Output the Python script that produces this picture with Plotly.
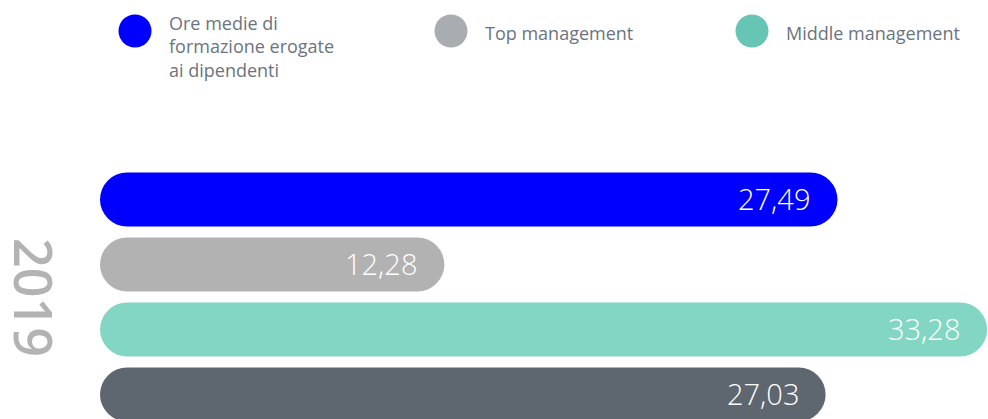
import plotly.graph_objects as go

# ---- data ----
categories = ["Ore medie di formazione erogate ai dipendenti", "Top management",
              "Middle management", "Altri dipendenti"]
values = [27.49, 12.28, 33.28, 27.03]
value_labels = ["27,49", "12,28", "33,28", "27,03"]
bar_colors = ["#0000FF", "#B2B2B2", "#83D6C4", "#5E6670"]
legend_labels = ["Ore medie di<br>formazione erogate<br>ai dipendenti", "Top management", "Middle management"]
legend_colors = ["#0000FF", "#A9ADB1", "#66C5B5"]
year_label = "2019"

# ---- layout geometry ----
W, H = 988, 419
ml, mr, mt, mb = 100, 0, 167, 0
pw, ph = W - ml - mr, H - mt - mb
R = 27                      # rounded cap radius (px)
xmax = max(values) * 1.001
s = (pw - R) / xmax          # px per unit
cap = R / s                  # left cap length in data units
row_px = 65

def px(xp):
    return (xp - ml) / pw

def py(yp):
    return (H - mb - yp) / ph

fig = go.Figure()
# left rounded cap (styling only)
fig.add_bar(y=categories, x=[-cap] * len(values), orientation="h",
            marker=dict(color=bar_colors, line=dict(width=0)),
            hoverinfo="skip", showlegend=False)
# data bars
fig.add_bar(y=categories, x=values, orientation="h",
            marker=dict(color=bar_colors, line=dict(width=0)),
            showlegend=False)

annotations = []
for c, v, lab in zip(categories, values, value_labels):
    annotations.append(dict(x=v, y=c, xref="x", yref="y", text=lab, showarrow=False,
                            xanchor="right", yanchor="middle", xshift=-25, yshift=1,
                            font=dict(family="Open Sans", size=29, color="#FFFFFF", weight=300)))

# year label
annotations.append(dict(x=px(35), y=py(297), xref="paper", yref="paper", text=year_label,
                        showarrow=False, textangle=90, xanchor="center", yanchor="middle",
                        font=dict(family="Open Sans", size=52, color="#B3B3B3", weight=600)))

# custom legend
shapes = []
legend_cx = [135, 451, 752]
for i, (lab, col) in enumerate(zip(legend_labels, legend_colors)):
    cx = legend_cx[i]
    shapes.append(dict(type="circle", xref="paper", yref="paper",
                       xsizemode="pixel", ysizemode="pixel",
                       xanchor=px(cx), yanchor=py(31),
                       x0=-16.5, x1=16.5, y0=-16.5, y1=16.5,
                       fillcolor=col, line=dict(width=0)))
    if i == 0:
        annotations.append(dict(x=px(cx + 32), y=py(9), xref="paper", yref="paper", text=lab,
                                showarrow=False, xanchor="left", yanchor="top", align="left",
                                font=dict(family="Open Sans", size=18, color="#6B7480")))
    else:
        annotations.append(dict(x=px(cx + 32), y=py(33), xref="paper", yref="paper", text=lab,
                                showarrow=False, xanchor="left", yanchor="middle", align="left",
                                font=dict(family="Open Sans", size=18, color="#6B7480")))

fig.update_layout(
    width=W, height=H,
    margin=dict(l=ml, r=mr, t=mt, b=mb, pad=0),
    paper_bgcolor="white", plot_bgcolor="white",
    barmode="relative", barcornerradius=R, bargap=1 - 54 / row_px,
    xaxis=dict(range=[-cap, xmax], visible=False, fixedrange=True),
    yaxis=dict(type="category", categoryorder="array", categoryarray=categories,
               range=[-0.5 + ph / row_px, -0.5], visible=False, fixedrange=True),
    annotations=annotations, shapes=shapes,
    showlegend=False,
)

fig.write_html("out.html", config={"displayModeBar": False},
               post_script="document.body.style.margin='0';document.body.style.overflow='hidden';")
